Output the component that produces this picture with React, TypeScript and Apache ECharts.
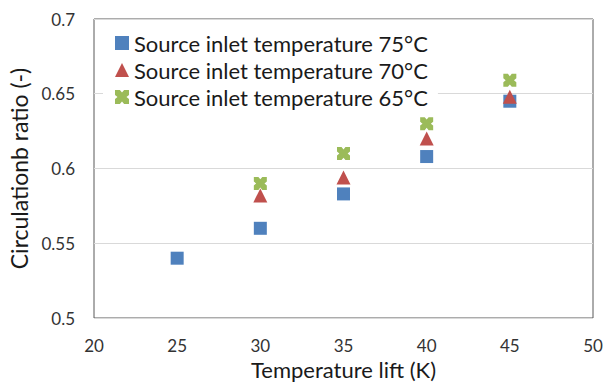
import React, { useEffect, useRef } from "react";
import * as echarts from "echarts";

const xValues = [25, 30, 35, 40, 45];
const series75 = [0.54, 0.56, 0.583, 0.608, 0.645];
const series70 = [null, 0.582, 0.594, 0.62, 0.648];
const series65 = [null, 0.59, 0.61, 0.63, 0.659];
const seriesNames = [
  "Source inlet temperature 75°C",
  "Source inlet temperature 70°C",
  "Source inlet temperature 65°C",
];
const colors = ["#4F81BD", "#C0504D", "#9BBB59"];

const xMark =
  "path://M0,0 L3.5,0 L5,1.8 L6.5,0 L10,0 L10,3.5 L8.2,5 L10,6.5 L10,10 L6.5,10 L5,8.2 L3.5,10 L0,10 L0,6.5 L1.8,5 L0,3.5 Z";

const font = "Lato, 'Open Sans', sans-serif";

export default function App() {
  const ref = useRef<HTMLDivElement>(null);
  useEffect(() => {
    if (!ref.current) return;
    const chart = echarts.init(ref.current, null, { renderer: "svg" });
    const toPairs = (arr: (number | null)[]) =>
      xValues.map((x, i) => (arr[i] == null ? null : [x, arr[i]])).filter((d) => d);
    chart.setOption({
      animation: false,
      backgroundColor: "#fff",
      textStyle: { fontFamily: font },
      grid: {
        left: 94,
        right: 23,
        top: 19,
        bottom: 65,
        outerBoundsMode: "none",
        containLabel: false,
        show: true,
        borderColor: "#595959",
        borderWidth: 1,
        backgroundColor: "#fff",
      },
      legend: {
        orient: "vertical",
        left: 103,
        top: 20,
        backgroundColor: "#fff",
        padding: [12, 10, 6, 12],
        itemWidth: 14,
        itemHeight: 14,
        itemGap: 5,
        textStyle: { fontSize: 22, color: "#1a1a1a", fontFamily: font },
        data: [
          { name: seriesNames[0], icon: "rect" },
          { name: seriesNames[1], icon: "triangle" },
          { name: seriesNames[2], icon: xMark },
        ],
      },
      xAxis: {
        type: "value",
        min: 20,
        max: 50,
        interval: 5,
        name: "Temperature lift (K)",
        nameLocation: "middle",
        nameGap: 40,
        nameTextStyle: { fontSize: 22, color: "#1a1a1a", fontFamily: font },
        axisLine: { show: false },
        axisTick: { show: false },
        splitLine: { show: false },
        axisLabel: { fontSize: 17, color: "#333", margin: 19, fontFamily: font },
      },
      yAxis: {
        type: "value",
        min: 0.5,
        max: 0.7,
        interval: 0.05,
        name: "Circulationb ratio (-)",
        nameLocation: "middle",
        nameGap: 55,
        nameTextStyle: { fontSize: 23, color: "#1a1a1a", fontFamily: font },
        axisLine: { show: false },
        axisTick: { show: false },
        splitLine: { show: true, lineStyle: { color: "#d9d9d9", width: 1 } },
        axisLabel: { fontSize: 17, color: "#333", margin: 19, fontFamily: font },
      },
      series: [
        {
          name: seriesNames[0],
          type: "scatter",
          symbol: "rect",
          symbolSize: 13,
          itemStyle: { color: colors[0], opacity: 1 },
          data: toPairs(series75),
          z: 3,
        },
        {
          name: seriesNames[1],
          type: "scatter",
          symbol: "triangle",
          symbolSize: 14,
          itemStyle: { color: colors[1], opacity: 1 },
          data: toPairs(series70),
          z: 4,
        },
        {
          name: seriesNames[2],
          type: "scatter",
          symbol: xMark,
          symbolSize: 13,
          itemStyle: { color: colors[2], opacity: 1 },
          data: toPairs(series65),
          z: 5,
        },
      ],
    });
    return () => chart.dispose();
  }, []);
  return (
    <div
      ref={ref}
      style={{ position: "fixed", left: 0, top: 0, width: 616, height: 383 }}
    />
  );
}
